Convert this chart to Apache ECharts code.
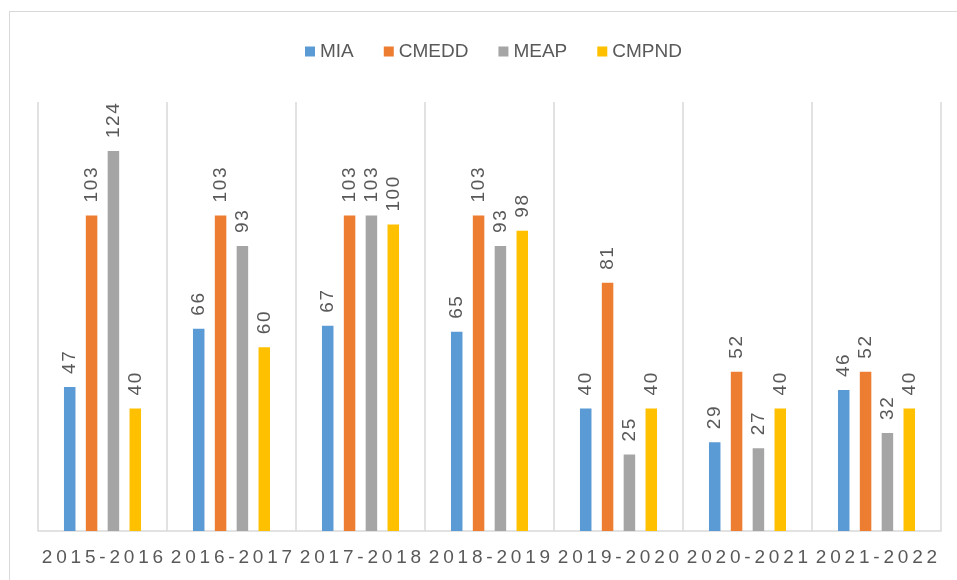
<!DOCTYPE html>
<html>
<head>
<meta charset="utf-8">
<script src="https://cdn.jsdelivr.net/npm/echarts@6/dist/echarts.min.js"></script>
<style>
  html, body { margin: 0; padding: 0; background: #fff; }
  .wrap { position: relative; width: 957px; height: 580px; }
  .frame { position: absolute; left: 9px; top: 11px; width: 960px; height: 580px;
           border-left: 1.5px solid #d9d9d9; border-top: 1.5px solid #d9d9d9; }
  #main { position: absolute; left: 0; top: 0; width: 957px; height: 580px; }
</style>
</head>
<body>
<div class="wrap">
  <div class="frame"></div>
  <div id="main"></div>
</div>
<script>
// data
var years = ['2015-2016', '2016-2017', '2017-2018', '2018-2019', '2019-2020', '2020-2021', '2021-2022']
var mia = [47, 66, 67, 65, 40, 29, 46]
var cmedd = [103, 103, 103, 103, 81, 52, 52]
var meap = [124, 93, 103, 93, 25, 27, 32]
var cmpnd = [40, 60, 100, 98, 40, 40, 40]

var txtColor = '#595959'
var lineColor = '#d9d9d9'
var font = 'Liberation Sans'

var myChart = echarts.init(document.getElementById('main'))

const labelOption = {
  show: true,
  position: 'top',
  rotate: 90,
  align: 'left',
  verticalAlign: 'middle',
  distance: 13,
  color: txtColor,
  fontFamily: font,
  fontSize: 19,
  formatter: function (p) { return String(p.value).split('').join('\u200A') }
}

function bar(name, data, color) {
  return {
    name: name,
    type: 'bar',
    data: data,
    barWidth: 11.5,
    barGap: '90%',
    itemStyle: { color: color },
    label: labelOption
  }
}

var option = {
  animation: false,
  legend: {
    left: 300,
    top: 37,
    itemWidth: 10,
    itemHeight: 10,
    itemGap: 30,
    icon: 'rect',
    textStyle: { color: txtColor, fontFamily: font, fontSize: 19 }
  },
  grid: { left: 38, right: 16, top: 102, bottom: 49 },
  xAxis: {
    type: 'category',
    data: years,
    axisTick: { show: false },
    axisLine: { lineStyle: { color: lineColor, width: 1.5 } },
    splitLine: { show: true, lineStyle: { color: lineColor, width: 1.5 } },
    axisLabel: {
      color: txtColor,
      fontFamily: font,
      fontSize: 19,
      margin: 17,
      interval: 0,
      formatter: function (v) { return v.split('').join('\u2009') }
    }
  },
  yAxis: {
    type: 'value',
    min: 0,
    max: 140,
    show: false,
    splitLine: { show: false }
  },
  series: [
    bar('MIA', mia, '#5b9bd5'),
    bar('CMEDD', cmedd, '#ed7d31'),
    bar('MEAP', meap, '#a5a5a5'),
    bar('CMPND', cmpnd, '#ffc000')
  ]
}

myChart.setOption(option)
</script>
</body>
</html>
